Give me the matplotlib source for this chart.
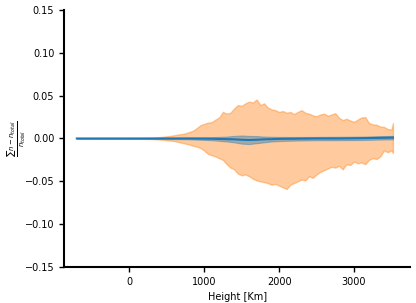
import matplotlib
matplotlib.use("Agg")
import matplotlib.pyplot as plt

# --- data ---
heights = [-700, -500, -300, -100, 0, 100, 200, 300, 350, 400, 450, 500, 550, 600, 650,
           700, 750, 800, 850, 900, 950, 1000, 1050, 1100, 1150, 1200, 1250, 1300, 1350,
           1400, 1450, 1500, 1550, 1600, 1650, 1700, 1750, 1800, 1850, 1900, 1950, 2000,
           2050, 2100, 2150, 2200, 2250, 2300, 2350, 2400, 2450, 2500, 2550, 2600, 2650,
           2700, 2750, 2800, 2850, 2900, 2950, 3000, 3050, 3100, 3150, 3200, 3250, 3300,
           3350, 3400, 3450, 3500, 3520]

spread_upper = [0.0, 0.0, 0.0, 0.0001, 0.0002, 0.0003, 0.0005, 0.0008, 0.0012, 0.0015,
                0.002, 0.0025, 0.003, 0.0038, 0.0045, 0.0052, 0.006, 0.0075, 0.009, 0.012,
                0.0155, 0.017, 0.0185, 0.019, 0.022, 0.0245, 0.031, 0.029, 0.030, 0.035,
                0.039, 0.038, 0.041, 0.043, 0.042, 0.0455, 0.039, 0.041, 0.036, 0.034,
                0.033, 0.031, 0.032, 0.030, 0.031, 0.0285, 0.031, 0.033, 0.030, 0.029,
                0.027, 0.026, 0.028, 0.029, 0.0265, 0.028, 0.0295, 0.024, 0.0215, 0.023,
                0.021, 0.0195, 0.022, 0.0245, 0.025, 0.018, 0.0165, 0.016, 0.014, 0.0135,
                0.011, 0.0105, 0.018]

spread_lower = [0.0, 0.0, 0.0, 0.0, -0.0002, -0.0003, -0.0005, -0.0007, -0.001, -0.0012,
                -0.0015, -0.002, -0.0025, -0.003, -0.004, -0.005, -0.006, -0.007, -0.0085,
                -0.0095, -0.011, -0.014, -0.018, -0.0195, -0.021, -0.023, -0.025, -0.030,
                -0.034, -0.036, -0.041, -0.043, -0.042, -0.044, -0.047, -0.049, -0.050,
                -0.051, -0.052, -0.054, -0.053, -0.055, -0.057, -0.059, -0.054, -0.052,
                -0.050, -0.048, -0.049, -0.044, -0.046, -0.042, -0.039, -0.037, -0.035,
                -0.033, -0.034, -0.032, -0.036, -0.030, -0.031, -0.027, -0.029, -0.028,
                -0.030, -0.025, -0.023, -0.024, -0.021, -0.014, -0.016, -0.014, -0.017]

mean_heights = [-700, 300, 500, 800, 1100, 1300, 1400, 1500, 1600, 1700, 1800, 1900, 2000,
                2200, 2500, 2800, 3100, 3400, 3520]
mean_vals = [0.0, 0.0, 0.0, 0.0, -0.0003, -0.0008, -0.001, -0.0015, -0.0018, -0.0015,
             -0.001, -0.0008, -0.0005, -0.0003, 0.0, 0.0, 0.0003, 0.0008, 0.001]
mean_upper = [0.0, 0.0002, 0.0006, 0.001, 0.0015, 0.0022, 0.003, 0.0035, 0.003, 0.0028,
              0.0022, 0.002, 0.0018, 0.0017, 0.0018, 0.002, 0.0022, 0.0028, 0.003]
mean_lower = [0.0, -0.0002, -0.0006, -0.001, -0.002, -0.0035, -0.0045, -0.006, -0.0065,
              -0.0055, -0.0045, -0.0035, -0.003, -0.0025, -0.002, -0.002, -0.0018, -0.0012,
              -0.001]

fig, ax = plt.subplots(figsize=(4.16, 3.03), dpi=100)
fig.subplots_adjust(left=0.154, right=0.986, bottom=0.119, top=0.967)

ax.fill_between(heights, spread_lower, spread_upper, color='tab:orange', alpha=0.4, linewidth=1)
ax.fill_between(mean_heights, mean_lower, mean_upper, color='tab:blue', alpha=0.4, linewidth=0.8)
ax.plot(mean_heights, mean_vals, color='tab:blue', linewidth=1.5)

ax.set_xlim(-870, 3750)
ax.set_ylim(-0.15, 0.15)
ax.set_xticks([0, 1000, 2000, 3000])
ax.set_yticks([-0.15, -0.10, -0.05, 0.0, 0.05, 0.10, 0.15])
ax.set_xlabel("Height [Km]", fontsize=7)
ax.set_ylabel(r"$\frac{\sum n - n_{total}}{n_{total}}$", fontsize=7)
ax.yaxis.set_label_coords(-0.105, 0.5)
ax.tick_params(labelsize=7, width=1, length=3.5)

for side in ['top', 'right']:
    ax.spines[side].set_visible(False)
for side in ['left', 'bottom']:
    ax.spines[side].set_linewidth(1.5)

plt.savefig("out.png", dpi=100)
